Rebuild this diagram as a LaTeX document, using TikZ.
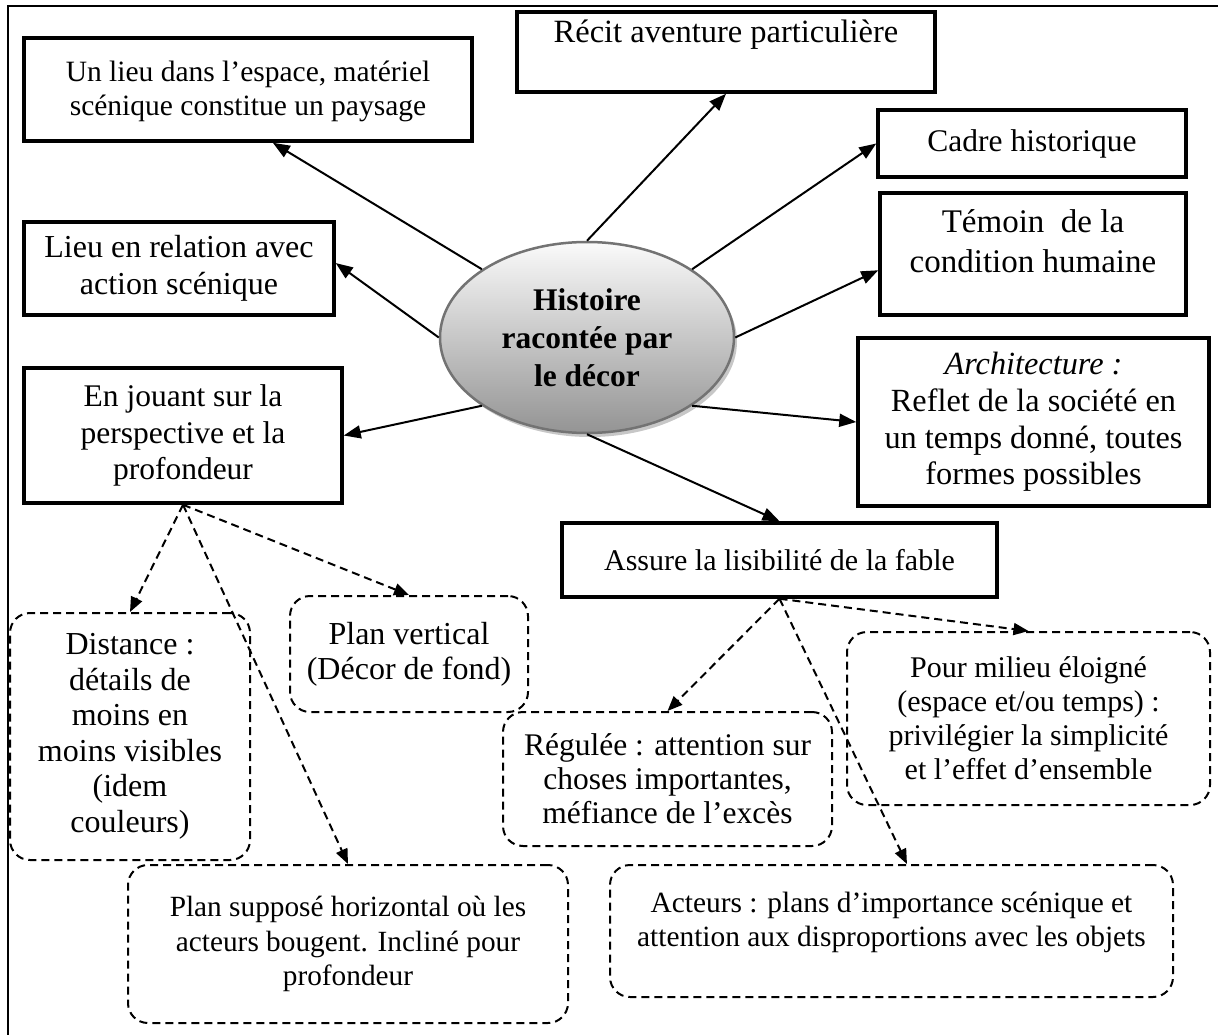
\documentclass[tikz,border=0pt]{standalone}
\usepackage{fontspec}
\setmainfont{Liberation Serif}
\usetikzlibrary{arrows.meta,shapes.geometric,shadows}

\begin{document}
\begin{tikzpicture}[
    x=1pt,
    y=-1pt,
    every node/.style={font=\fontsize{30}{34.5}\selectfont, align=center},
    txt/.style 2 args={font=\fontsize{#1}{#2}\selectfont},
    topic/.style={draw=black, line width=3.5pt, inner sep=0pt},
    detail/.style={draw=black, line width=2pt, dash pattern=on 8pt off 5pt,
      rounded corners=20pt, inner sep=0pt},
    hub/.style={ellipse, draw=black!55, line width=2.5pt, top color=black!2,
      bottom color=black!42, minimum width=294pt, minimum height=191pt,
      inner sep=0pt, font=\fontsize{31.5}{38}\selectfont\bfseries,
      drop shadow={shadow xshift=3pt, shadow yshift=-4pt, fill=black!22, opacity=1}},
    link/.style={-{Triangle[length=17pt,width=13pt]}, line width=2pt},
    sublink/.style={-{Triangle[length=15pt,width=12pt]}, line width=2pt,
      dash pattern=on 8pt off 5pt}
  ]
    \useasboundingbox (0,0) rectangle (1218,1035);
    % frame (only top and left edges show)
    \draw[line width=2pt] (8,1035) -- (8,6) -- (1218,6);

    % boxes round the centre
    \node[topic, txt={29.5}{34}, minimum width=448pt, minimum height=103pt, text depth=3pt] (lieu) at (248,89.5)
      {Un lieu dans l’espace, matériel\\scénique constitue un paysage};
    \node[topic, txt={32.5}{37}, minimum width=418pt, minimum height=80pt, text depth=41pt] (recit) at (726,52)
      {Récit aventure particulière};
    \node[topic, txt={31.5}{36}, minimum width=308pt, minimum height=67pt] (cadre) at (1032,143.5)
      {Cadre historique};
    \node[topic, txt={33}{40}, minimum width=306pt, minimum height=122pt, text depth=25pt] (temoin) at (1033,254)
      {Témoin\ \ de la\\condition humaine};
    \node[topic, txt={32}{37}, minimum width=310pt, minimum height=93pt] (relation) at (179,268.5)
      {Lieu en relation avec\\action scénique};
    \node[topic, txt={31.5}{36.7}, minimum width=318pt, minimum height=135pt] (jeu) at (183,435.5)
      {En jouant sur la\\perspective et la\\profondeur};
    \node[topic, txt={32.3}{36.7}, minimum width=351pt, minimum height=168pt] (archi) at (1033.5,422)
      {\textit{Architecture :}\\Reflet de la société en\\un temps donné, toutes\\formes possibles};
    \node[topic, minimum width=435pt, minimum height=74pt] (fable) at (779.5,560)
      {Assure la lisibilité de la fable};

    % centre
    \node[hub] (hist) at (587,337.5) {Histoire\\racontée par\\le décor};

    % dashed boxes
    \node[detail, txt={32}{35.5}, minimum width=240pt, minimum height=247pt] (distance) at (130,736.5)
      {Distance :\\détails de\\moins en\\moins visibles\\(idem\\couleurs)};
    \node[detail, txt={32}{35}, minimum width=238pt, minimum height=116pt] (vertical) at (409,654)
      {Plan vertical\\(Décor de fond)};
    \node[detail, txt={31.5}{34}, minimum width=329pt, minimum height=134pt] (regulee) at (667.5,779)
      {Régulée : attention sur\\choses importantes,\\méfiance de l’excès};
    \node[detail, txt={30}{34}, minimum width=363pt, minimum height=173pt] (eloigne) at (1028.5,718.5)
      {Pour milieu éloigné\\(espace et/ou temps) :\\privilégier la simplicité\\et l’effet d’ensemble};
    \node[detail, txt={29.3}{34.5}, minimum width=440pt, minimum height=158pt] (horizontal) at (348,944)
      {Plan supposé horizontal où les\\acteurs bougent. Incliné pour\\profondeur};
    \node[detail, txt={29.4}{34}, minimum width=563pt, minimum height=132pt, text depth=23pt] (acteurs) at (891.5,931)
      {Acteurs : plans d’importance scénique et\\attention aux disproportions avec les objets};

    % arrows from the centre
    \draw[link] (hist.147) -- (lieu.-65);
    \draw[link] (hist.90) -- (recit.south);
    \draw[link] (hist.33) -- (cadre.west);
    \draw[link] (hist.0) -- (temoin.186);
    \draw[link] (hist.180) -- (relation.2);
    \draw[link] (hist.213) -- (jeu.east);
    \draw[link] (hist.-33) -- (archi.west);
    \draw[link] (hist.-90) -- (fable.north);

    % dashed arrows
    \draw[sublink] (jeu.south) -- (distance.north);
    \draw[sublink] (jeu.south) -- (vertical.north);
    \draw[sublink] (jeu.south) -- (horizontal.north);
    \draw[sublink] (fable.south) -- (regulee.north);
    \draw[sublink] (fable.south) -- (eloigne.north);
    \draw[sublink] (fable.south) -- (acteurs.77);
  \end{tikzpicture}
\end{document}
